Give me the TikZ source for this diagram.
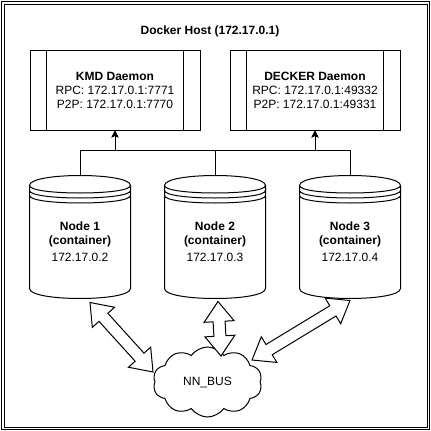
\documentclass[tikz,border=0pt]{standalone}
\usepackage{fontspec}
\setmainfont{Liberation Sans}
\usetikzlibrary{calc,shapes.symbols,arrows.meta}
\newcommand\cylshape[1]{%
 \draw[fill=white] ($(#1.north west)+(0,10)$) .. controls ($(#1.north west)+(0,-3.33)$) and ($(#1.north east)+(0,-3.33)$) .. ($(#1.north east)+(0,10)$) -- ($(#1.south east)+(0,-10)$) .. controls ($(#1.south east)+(0,3.33)$) and ($(#1.south west)+(0,3.33)$) .. ($(#1.south west)+(0,-10)$) -- cycle;
 \foreach \k in {0,5,10} {\draw ($(#1.north west)+(0,10+\k)$) .. controls ($(#1.north west)+(0,20+\k)$) and ($(#1.north east)+(0,20+\k)$) .. ($(#1.north east)+(0,10+\k)$);}%
}
\newcommand\procsides[1]{%
 \draw ($(#1.north west)+(17,0)$) -- ($(#1.south west)+(17,0)$);
 \draw ($(#1.north east)+(-17,0)$) -- ($(#1.south east)+(-17,0)$);%
}
\newcommand\flexarr[2]{%
 \coordinate (fa1) at ($(#1)!20pt!(#2)$);
 \coordinate (fa2) at ($(#2)!20pt!(#1)$);
 \draw[flexbody] (#1) -- ($(fa1)!15pt!90:(#2)$) -- ($(fa1)!6pt!90:(#2)$) -- ($(fa2)!6pt!-90:(#1)$) -- ($(fa2)!15pt!-90:(#1)$) -- (#2) -- ($(fa2)!15pt!90:(#1)$) -- ($(fa2)!6pt!90:(#1)$) -- ($(fa1)!6pt!-90:(#2)$) -- ($(fa1)!15pt!-90:(#2)$) -- cycle;%
}
\begin{document}
\begin{tikzpicture}[x=1pt,y=-1pt,line width=1pt,
  every node/.style={font=\fontsize{12}{14}\selectfont},
  daemon/.style={draw, minimum width=170pt, minimum height=80pt, align=center, inner sep=0pt},
  cylbox/.style={minimum width=100pt, minimum height=122pt, inner sep=0pt},
  cyltext/.style={align=center, inner sep=0pt},
  conn/.style={-{Stealth[length=7pt,width=7pt,inset=1.5pt]}},
  flexbody/.style={draw, fill=white, line join=miter},
  busnode/.style={draw, fill=white, cloud, cloud puffs=10, cloud puff arc=110, aspect=1.5, minimum width=109pt, minimum height=70pt, inner sep=0pt}
]
\useasboundingbox (0,0) rectangle (431,431);
\fill[white] (0,0) rectangle (431,431);
\draw (1.5,1.5) rectangle (429.5,429.5);
\draw (4,4) rectangle (427,427);

\node[font=\bfseries\fontsize{12}{14}\selectfont] (title) at (210,31) {Docker Host (172.17.0.1)};

\node[daemon] (kmd) at (115,90) {\textbf{KMD Daemon}\\RPC: 172.17.0.1:7771\\P2P: 172.17.0.1:7770};
\procsides{kmd}
\node[daemon] (decker) at (315,90) {\textbf{DECKER Daemon}\\RPC: 172.17.0.1:49332\\P2P: 172.17.0.1:49331};
\procsides{decker}

\node[cylbox] (n1) at (80,237) {};
\node[cylbox] (n2) at (215,237) {};
\node[cylbox] (n3) at (350,237) {};

\coordinate (busy) at (0,150);
\draw[conn] (n1.north) -- (n1.north |- busy) -- (kmd.south |- busy) -- (kmd.south);
\draw[conn] (n2.north) -- (n2.north |- busy) -- (kmd.south |- busy) -- (kmd.south);
\draw[conn] (n2.north) -- (n2.north |- busy) -- (decker.south |- busy) -- (decker.south);
\draw[conn] (n3.north) -- (n3.north |- busy) -- (decker.south |- busy) -- (decker.south);

\cylshape{n1}
\cylshape{n2}
\cylshape{n3}
\node[cyltext] (n1t) at ($(n1.center)+(0,4.5)$) {\textbf{Node 1}\\\textbf{(container)}\\[3pt]172.17.0.2};
\node[cyltext] (n2t) at ($(n2.center)+(0,4.5)$) {\textbf{Node 2}\\\textbf{(container)}\\[3pt]172.17.0.3};
\node[cyltext] (n3t) at ($(n3.center)+(0,4.5)$) {\textbf{Node 3}\\\textbf{(container)}\\[3pt]172.17.0.4};

\node[busnode] (bus) at (207.5,382) {NN\_BUS};

\coordinate (a1s) at ($(n1.south)+(10,4)$);
\coordinate (a1e) at ($(bus.center)+(-54.5,-10)$);
\coordinate (a2s) at ($(n2.south)+(3,3)$);
\coordinate (a2e) at ($(bus.center)+(13.5,-26)$);
\coordinate (a3s) at ($(n3.south)+(0,2)$);
\coordinate (a3e) at ($(bus.center)+(44.5,-22)$);
\flexarr{a1s}{a1e}
\flexarr{a2s}{a2e}
\flexarr{a3s}{a3e}
\end{tikzpicture}
\end{document}
